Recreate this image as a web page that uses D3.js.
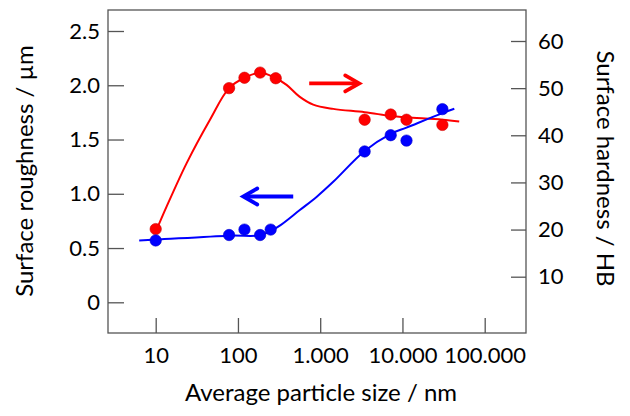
<!DOCTYPE html>
<html>
<head>
<meta charset="utf-8">
<script src="https://cdn.jsdelivr.net/npm/d3@7"></script>
<style>
  html, body { margin: 0; padding: 0; background: #fff; }
  svg { display: block; }
  text { font-family: Lato, "Open Sans", sans-serif; fill: #000; }
</style>
</head>
<body>
<svg id="chart" width="630" height="416"></svg>
<script>
// ---- data ----
const particleSize = [10, 78, 120, 186, 288, 3470, 7200, 11200, 30600];
const hardnessHB   = [20.1, 50, 52.2, 53.3, 52.1, 43.3, 44.4, 43.3, 42.2];
const roughSize    = [10, 78, 120, 186, 250, 3470, 7200, 11200, 30600];
const roughnessUm  = [0.57, 0.62, 0.67, 0.62, 0.67, 1.39, 1.54, 1.49, 1.78];

// fitted trend curves
const hardFitX = [10, 13.6, 23.8, 45.7, 78, 120, 186, 288, 390, 560, 822, 1440, 3470, 7200, 11200, 30600, 49000];
const hardFitY = [19.5, 24.9, 34.1, 43.3, 50, 52.2, 53.3, 52.1, 50.7, 48.2, 46.5, 45.6, 44.9, 44.1, 43.8, 43.3, 42.9];
const roughFitX = [6.3, 10, 78, 186, 250, 326, 560, 903, 1440, 3470, 7200, 11200, 30600, 42700];
const roughFitY = [0.57, 0.577, 0.614, 0.617, 0.657, 0.709, 0.848, 0.971, 1.11, 1.394, 1.552, 1.61, 1.743, 1.783];

// direction arrows: [xStart, xEnd, y]
const redArrow  = [735, 2980, 51];
const blueArrow = [470, 116, 0.975];

const xTicks = [10, 100, 1000, 10000, 100000];
const xTickLabels = ["10", "100", "1.000", "10.000", "100.000"];
const leftTicks = [0, 0.5, 1.0, 1.5, 2.0, 2.5];
const leftTickLabels = ["0", "0.5", "1.0", "1.5", "2.0", "2.5"];
const rightTicks = [10, 20, 30, 40, 50, 60];
const rightTickLabels = ["10", "20", "30", "40", "50", "60"];

const xTitle = "Average particle size / nm";
const leftTitle = "Surface roughness / µm";
const rightTitle = "Surface hardness / HB";

// ---- layout ----
const box = { left: 108, right: 526, top: 10, bottom: 333 };
const RED = "#ff0000", BLUE = "#0000ff", AXIS = "#555555";

const svg = d3.select("#chart");

const x = d3.scaleLog().domain([10, 100000]).range([155.7, 484.7]);
const yL = d3.scaleLinear().domain([0, 2.5]).range([302.3, 31]);
const yR = d3.scaleLinear().domain([10, 60]).range([276.7, 41]);

// frame
svg.append("rect")
  .attr("x", box.left).attr("y", box.top)
  .attr("width", box.right - box.left).attr("height", box.bottom - box.top)
  .attr("fill", "none").attr("stroke", AXIS).attr("stroke-width", 1.3);

function styleAxis(g) {
  g.select(".domain").remove();
  g.selectAll(".tick line").attr("stroke", AXIS).attr("stroke-width", 1.3);
  g.selectAll(".tick text").style("font-size", "22px").attr("fill", "#000");
}

svg.append("g")
  .attr("transform", `translate(0,${box.bottom})`)
  .call(d3.axisBottom(x).tickValues(xTicks)
    .tickFormat((d, i) => xTickLabels[i]).tickSizeInner(-15).tickSizeOuter(0).tickPadding(14))
  .call(styleAxis);

svg.append("g")
  .attr("transform", `translate(${box.left},0)`)
  .call(d3.axisLeft(yL).tickValues(leftTicks)
    .tickFormat((d, i) => leftTickLabels[i]).tickSizeInner(-16).tickSizeOuter(0).tickPadding(8))
  .call(styleAxis);

svg.append("g")
  .attr("transform", `translate(${box.right},0)`)
  .call(d3.axisRight(yR).tickValues(rightTicks)
    .tickFormat((d, i) => rightTickLabels[i]).tickSizeInner(-15).tickSizeOuter(0).tickPadding(12))
  .call(styleAxis);

// titles
svg.append("text").attr("x", 321).attr("y", 401).attr("text-anchor", "middle")
  .style("font-size", "24px").text(xTitle);
svg.append("text").attr("transform", "translate(33,171) rotate(-90)").attr("text-anchor", "middle")
  .style("font-size", "24px").text(leftTitle);
svg.append("text").attr("transform", "translate(597,168.5) rotate(90)").attr("text-anchor", "middle")
  .style("font-size", "24px").text(rightTitle);

// fit lines
const hardLine = d3.line().x(d => x(d[0])).y(d => yR(d[1])).curve(d3.curveCatmullRom.alpha(0.5));
const roughLine = d3.line().x(d => x(d[0])).y(d => yL(d[1])).curve(d3.curveCatmullRom.alpha(0.5));

svg.append("path").datum(d3.zip(hardFitX, hardFitY))
  .attr("d", hardLine).attr("fill", "none").attr("stroke", RED).attr("stroke-width", 2);
svg.append("path").datum(d3.zip(roughFitX, roughFitY))
  .attr("d", roughLine).attr("fill", "none").attr("stroke", BLUE).attr("stroke-width", 2);

// points
svg.append("g").selectAll("circle").data(d3.zip(particleSize, hardnessHB)).join("circle")
  .attr("cx", d => x(d[0])).attr("cy", d => yR(d[1])).attr("r", 5.7)
  .attr("fill", RED).attr("stroke", "#cc0000").attr("stroke-width", 0.6);
svg.append("g").selectAll("circle").data(d3.zip(roughSize, roughnessUm)).join("circle")
  .attr("cx", d => x(d[0])).attr("cy", d => yL(d[1])).attr("r", 5.7)
  .attr("fill", BLUE).attr("stroke", "#0000cc").attr("stroke-width", 0.6);

// arrows
function drawArrow(a, yScale, color) {
  const x0 = x(a[0]), x1 = x(a[1]), yy = yScale(a[2]);
  const dir = Math.sign(x1 - x0);
  svg.append("line").attr("x1", x0).attr("y1", yy).attr("x2", x1 - dir * 1.5).attr("y2", yy)
    .attr("stroke", color).attr("stroke-width", 3.8);
  svg.append("path")
    .attr("d", `M${x1 - dir * 14},${yy - 8} L${x1},${yy} L${x1 - dir * 14},${yy + 8}`)
    .attr("fill", "none").attr("stroke", color).attr("stroke-width", 3.8)
    .attr("stroke-linecap", "round").attr("stroke-linejoin", "miter");
}
drawArrow(redArrow, yR, RED);
drawArrow(blueArrow, yL, BLUE);
</script>
</body>
</html>
